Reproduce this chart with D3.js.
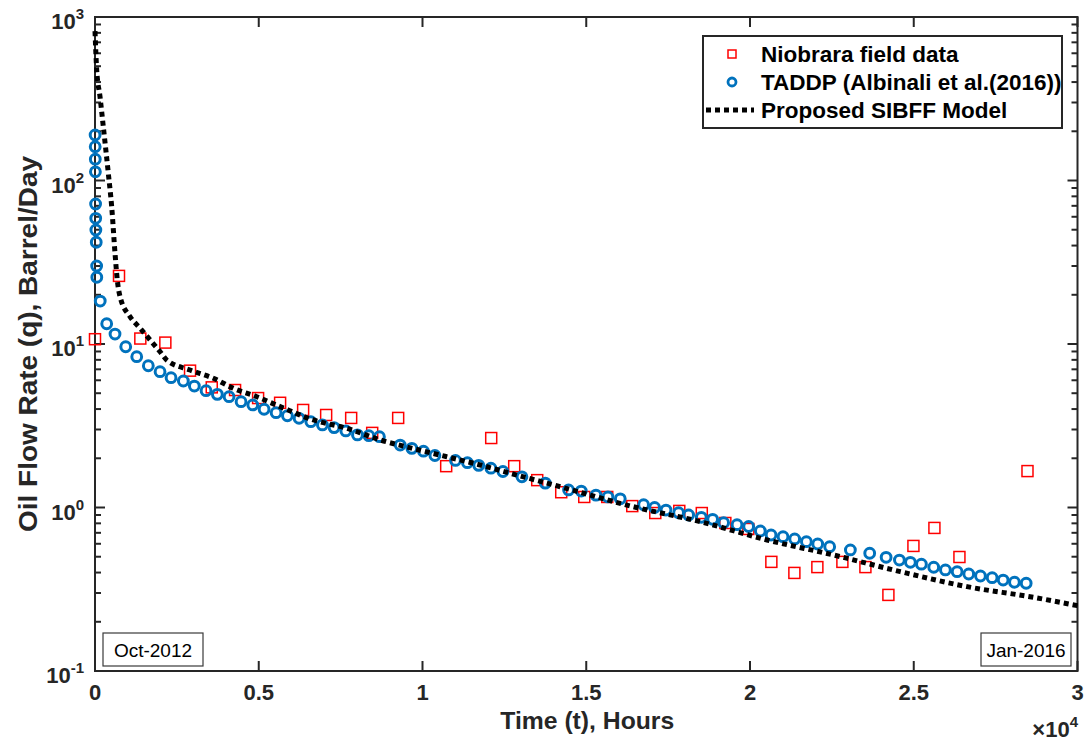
<!DOCTYPE html>
<html>
<head>
<meta charset="utf-8">
<script src="https://cdn.jsdelivr.net/npm/d3@7"></script>
<style>
  body { margin: 0; background: #fff; }
  svg { display: block; font-family: "Liberation Sans", Arial, Helvetica, sans-serif; }
</style>
</head>
<body>
<svg id="chart"></svg>
<script>
// Niobrara field data (hours, barrel/day)
const fieldT = [0, 733, 1384, 2148, 2902, 3565, 4277, 4980, 5652, 6355, 7058, 7822, 8464, 9257,
  10723, 12098, 12800, 13503, 14236, 14939, 15641, 16405, 17108, 17841, 18528, 19247, 19949,
  20652, 21355, 22057, 22821, 23524, 24226, 24990, 25631, 26395, 28473];
const fieldQ = [10.7, 26.1, 10.8, 10.2, 6.87, 5.43, 5.23, 4.67, 4.37, 3.95, 3.68, 3.53, 2.86, 3.53,
  1.79, 2.66, 1.79, 1.47, 1.24, 1.16, 1.16, 1.02, 0.925, 0.953, 0.925, 0.804, 0.739,
  0.465, 0.398, 0.432, 0.465, 0.432, 0.292, 0.582, 0.750, 0.498, 1.67];

// TADDP (Albinali et al. 2016)
const taddpT = [3, 6, 9, 12, 18, 22, 26, 38, 50, 55, 160,
  357, 611, 938, 1274, 1628, 1986, 2322, 2698, 3034, 3391, 3736, 4094, 4460, 4818, 5163,
  5530, 5875, 6232, 6590, 6944, 7301, 7659, 8014, 8362, 8685, 9318, 9675, 10030, 10378,
  11007, 11371, 11716, 12089, 12455, 13036, 13748, 14460, 14847, 15296, 15663, 16039,
  16751, 17087, 17435, 17820, 18126, 18514, 18859, 19195, 19604, 19959, 20316, 20643,
  21009, 21364, 21722, 22067, 22433, 23065, 23655, 24156, 24562, 24898, 25234, 25610,
  25967, 26325, 26679, 27037, 27394, 27730, 28075, 28433];
const taddpQ = [190, 161, 135, 113, 71.8, 58.7, 49.8, 41.9, 30.0, 25.6, 18.3,
  13.3, 11.5, 9.62, 8.36, 7.36, 6.77, 6.22, 5.94, 5.53, 5.18, 4.92, 4.76, 4.44, 4.24, 3.99,
  3.80, 3.64, 3.51, 3.35, 3.20, 3.08, 2.94, 2.78, 2.75, 2.71, 2.41, 2.30, 2.21, 2.08,
  1.94, 1.88, 1.81, 1.74, 1.66, 1.54, 1.41, 1.28, 1.26, 1.19, 1.16, 1.13,
  1.04, 1.00, 0.965, 0.929, 0.900, 0.871, 0.847, 0.807, 0.785, 0.765, 0.718, 0.679,
  0.663, 0.642, 0.618, 0.598, 0.576, 0.550, 0.525, 0.496, 0.477, 0.462, 0.450, 0.431,
  0.415, 0.405, 0.392, 0.381, 0.372, 0.360, 0.349, 0.344];

// Proposed SIBFF model curve
const sibffT = [0, 52, 153, 254, 406, 510, 611, 681, 764, 1069, 1375, 1680, 1986, 2190, 2902,
  3614, 4225, 4940, 5652, 6669, 7689, 8707, 9693, 10714, 11762, 12678, 14206, 16445, 18483,
  20520, 22556, 24593, 26630, 28665, 30000];
const sibffQ = [820, 474, 326, 213, 111, 69, 35.9, 24.6, 19.5, 14.7, 12.5, 10.6, 8.97, 7.98, 6.93,
  6.17, 5.36, 4.76, 4.14, 3.43, 3.05, 2.59, 2.30, 2.05, 1.82, 1.62, 1.34, 1.01, 0.819,
  0.633, 0.512, 0.405, 0.328, 0.282, 0.251];

const xTicks = [0, 5000, 10000, 15000, 20000, 25000, 30000];
const xTickLabels = ["0", "0.5", "1", "1.5", "2", "2.5", "3"];
const yTicks = [0.1, 1, 10, 100, 1000];
const yTickExps = ["-1", "0", "1", "2", "3"];
const legendLabels = ["Niobrara field data", "TADDP (Albinali et al.(2016))", "Proposed SIBFF Model"];
const dateLabels = ["Oct-2012", "Jan-2016"];

var width = 1085
var height = 742
var axisColor = '#262626'

var svg = d3.select('#chart').attr('width', width).attr('height', height)
svg.append('rect').attr('width', width).attr('height', height).attr('fill', '#fff')

var x = d3.scaleLinear().domain([0, 30000]).range([95, 1077.5])
var y = d3.scaleLog().domain([0.1, 1000]).range([671, 17])

var plotLeft = x.range()[0], plotRight = x.range()[1]
var plotTop = y.range()[1], plotBottom = y.range()[0]

// axes box (drawn under the data, like matlab's default layer)
var axes = svg.append('g').attr('stroke', axisColor).attr('stroke-width', 2)
axes.append('rect').attr('x', plotLeft).attr('y', plotTop)
  .attr('width', plotRight - plotLeft).attr('height', plotBottom - plotTop)
  .attr('fill', 'none')

// x ticks, bottom and top, pointing inside
xTicks.forEach(function (t) {
  axes.append('line').attr('x1', x(t)).attr('x2', x(t)).attr('y1', plotBottom).attr('y2', plotBottom - 10)
  axes.append('line').attr('x1', x(t)).attr('x2', x(t)).attr('y1', plotTop).attr('y2', plotTop + 10)
})

// y ticks with minor ones for the log scale
yTicks.forEach(function (v, i) {
  axes.append('line').attr('x1', plotLeft).attr('x2', plotLeft + 10).attr('y1', y(v)).attr('y2', y(v))
  axes.append('line').attr('x1', plotRight).attr('x2', plotRight - 10).attr('y1', y(v)).attr('y2', y(v))
  if (i < yTicks.length - 1) {
    for (var m = 2; m < 10; m++) {
      var yy = y(v * m)
      axes.append('line').attr('x1', plotLeft).attr('x2', plotLeft + 6).attr('y1', yy).attr('y2', yy)
      axes.append('line').attr('x1', plotRight).attr('x2', plotRight - 6).attr('y1', yy).attr('y2', yy)
    }
  }
})

var plot = svg.append('g')

// field data squares
var sq = 11
plot.append('g').selectAll('rect')
  .data(fieldT.map(function (t, i) { return {t: t, q: fieldQ[i]} }))
  .enter().append('rect')
    .attr('x', function (d) { return x(d.t) - sq / 2 })
    .attr('y', function (d) { return y(d.q) - sq / 2 })
    .attr('width', sq).attr('height', sq)
    .attr('fill', 'none').attr('stroke', '#ff0000').attr('stroke-width', 1.5)

// TADDP circles
plot.append('g').selectAll('circle')
  .data(taddpT.map(function (t, i) { return {t: t, q: taddpQ[i]} }))
  .enter().append('circle')
    .attr('cx', function (d) { return x(d.t) })
    .attr('cy', function (d) { return y(d.q) })
    .attr('r', 4.9)
    .attr('fill', 'none').attr('stroke', '#0072bd').attr('stroke-width', 3)

// SIBFF dotted curve
var line = d3.line()
  .x(function (d) { return x(d.t) })
  .y(function (d) { return y(d.q) })
  .curve(d3.curveMonotoneX)

plot.append('path')
  .datum(sibffT.map(function (t, i) { return {t: t, q: sibffQ[i]} }))
  .attr('d', line)
  .attr('fill', 'none').attr('stroke', '#000').attr('stroke-width', 5)
  .attr('stroke-dasharray', '5,4')

// tick labels
svg.append('g').selectAll('text')
  .data(xTicks)
  .enter().append('text')
    .attr('x', function (d) { return x(d) })
    .attr('y', 700)
    .attr('text-anchor', 'middle')
    .attr('font-size', 22).attr('font-weight', 'bold').attr('fill', axisColor)
    .text(function (d, i) { return xTickLabels[i] })

var yLabels = svg.append('g').selectAll('text')
  .data(yTicks)
  .enter().append('text')
    .attr('x', 84)
    .attr('y', function (d) { return y(d) + 12 })
    .attr('text-anchor', 'end')
    .attr('font-weight', 'bold').attr('fill', axisColor)
yLabels.append('tspan').attr('font-size', 22).text('10')
yLabels.append('tspan').attr('font-size', 15).attr('dy', -10).text(function (d, i) { return yTickExps[i] })

// x10^4 multiplier
var mult = svg.append('text').attr('x', 1078).attr('y', 737).attr('text-anchor', 'end')
  .attr('font-weight', 'bold').attr('fill', axisColor)
mult.append('tspan').attr('font-size', 22).text('\u00d710')
mult.append('tspan').attr('font-size', 15).attr('dy', -10).text('4')

// axis titles
svg.append('text')
  .attr('x', (plotLeft + plotRight) / 2 + 1).attr('y', 729)
  .attr('text-anchor', 'middle')
  .attr('font-size', 24).attr('font-weight', 'bold').attr('fill', axisColor)
  .attr('textLength', 174).attr('lengthAdjust', 'spacingAndGlyphs')
  .text('Time (t), Hours')

svg.append('text')
  .attr('transform', 'translate(37,' + ((plotTop + plotBottom) / 2) + ') rotate(-90)')
  .attr('text-anchor', 'middle')
  .attr('font-size', 25).attr('font-weight', 'bold').attr('fill', axisColor)
  .attr('textLength', 376).attr('lengthAdjust', 'spacingAndGlyphs')
  .text('Oil Flow Rate (q), Barrel/Day')

// legend
var legend = svg.append('g')
legend.append('rect').attr('x', 703).attr('y', 36).attr('width', 359).attr('height', 92)
  .attr('fill', '#fff').attr('stroke', axisColor).attr('stroke-width', 2)

var rowY = [54, 82, 110]
legend.append('rect').attr('x', 728).attr('y', rowY[0] - 4).attr('width', 8).attr('height', 8)
  .attr('fill', 'none').attr('stroke', '#ff0000').attr('stroke-width', 1.5)
legend.append('circle').attr('cx', 732).attr('cy', rowY[1]).attr('r', 4)
  .attr('fill', 'none').attr('stroke', '#0072bd').attr('stroke-width', 2.8)
legend.append('line').attr('x1', 706).attr('x2', 754).attr('y1', rowY[2]).attr('y2', rowY[2])
  .attr('stroke', '#000').attr('stroke-width', 5).attr('stroke-dasharray', '5,4')

legend.selectAll('text.leg')
  .data(legendLabels)
  .enter().append('text')
    .attr('class', 'leg')
    .attr('x', 761)
    .attr('y', function (d, i) { return rowY[i] + 8 })
    .attr('font-size', 22.5).attr('font-weight', 'bold').attr('fill', '#000')
    .text(function (d) { return d })

// date annotations in the bottom corners
var boxes = [{x: 103, w: 100}, {x: 981, w: 90}]
boxes.forEach(function (b, i) {
  svg.append('rect').attr('x', b.x).attr('y', 633).attr('width', b.w).attr('height', 33)
    .attr('fill', '#fff').attr('stroke', '#3a3a3a').attr('stroke-width', 1.2)
  svg.append('text').attr('x', b.x + b.w / 2).attr('y', 657)
    .attr('text-anchor', 'middle')
    .attr('font-size', 19).attr('fill', '#000')
    .text(dateLabels[i])
})
</script>
</body>
</html>
